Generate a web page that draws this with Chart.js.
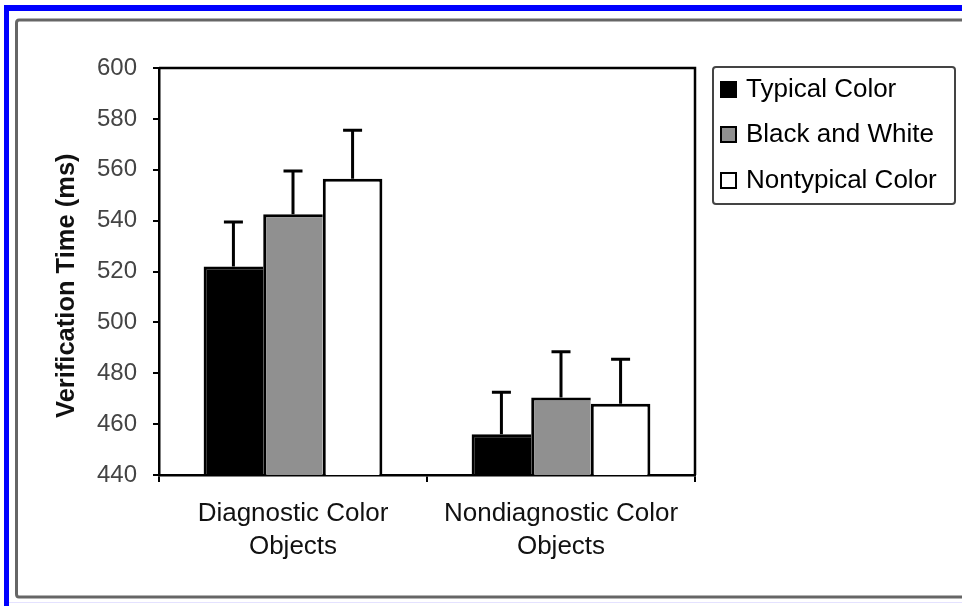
<!DOCTYPE html>
<html>
<head>
<meta charset="utf-8">
<script src="https://cdn.jsdelivr.net/npm/chart.js@4.4.1/dist/chart.umd.min.js"></script>
<style>
  html, body { margin: 0; padding: 0; background: #fff; }
  #wrap { width: 962px; height: 606px; position: relative; }
</style>
</head>
<body>
<div id="wrap"><canvas id="c" width="962" height="606"></canvas></div>
<script>
// ---- Data ----
const categories = [["Diagnostic Color", "Objects"], ["Nondiagnostic Color", "Objects"]];
const seriesNames = ["Typical Color", "Black and White", "Nontypical Color"];
const typicalColor = [522, 456];
const blackAndWhite = [542.5, 470.5];
const nontypicalColor = [556.5, 468];
const typicalErr = [17.5, 16.5];
const bwErr = [17, 18];
const nontypicalErr = [19, 17.5];
const yTicks = [440, 460, 480, 500, 520, 540, 560, 580, 600];

const seriesValues = [typicalColor, blackAndWhite, nontypicalColor];
const seriesErrors = [typicalErr, bwErr, nontypicalErr];
const fills = ["#000000", "#909090", "#ffffff"];

const FONT = "'Liberation Sans', Arial, sans-serif";

const datasets = seriesNames.map((name, i) => ({
  label: name,
  data: seriesValues[i],
  errors: seriesErrors[i],
  backgroundColor: fills[i],
  borderColor: "#000",
  borderSkipped: false,
  borderWidth: { top: 3, left: 3, right: i === 2 ? 3 : 0, bottom: 0 },
  categoryPercentage: 0.667,
  barPercentage: 1.0
}));

const framePlugin = {
  id: "frame",
  beforeDraw(chart) {
    const ctx = chart.ctx;
    ctx.save();
    ctx.fillStyle = "#fff";
    ctx.fillRect(0, 0, chart.width, chart.height);
    // blue band
    ctx.fillStyle = "#0000ff";
    ctx.fillRect(4, 5, chart.width - 4, 6);
    ctx.fillRect(4, 5, 5, chart.height - 5);
    // faint bottom line
    ctx.fillStyle = "#e4e2ff";
    ctx.fillRect(9, 602, chart.width - 9, 1);
    // gray outer frame
    ctx.strokeStyle = "#666";
    ctx.lineWidth = 3;
    ctx.beginPath();
    ctx.moveTo(chart.width + 10, 20);
    ctx.lineTo(19, 20);
    ctx.quadraticCurveTo(16.5, 20, 16.5, 23);
    ctx.lineTo(16.5, 594);
    ctx.quadraticCurveTo(16.5, 597, 19, 597);
    ctx.lineTo(chart.width + 10, 597);
    ctx.stroke();
    ctx.restore();
  },
  afterDraw(chart) {
    const ctx = chart.ctx;
    const a = chart.chartArea;
    ctx.save();
    // top & right border of plot area
    ctx.strokeStyle = "#000";
    ctx.lineWidth = 2.5;
    ctx.beginPath();
    ctx.moveTo(a.left, a.top);
    ctx.lineTo(a.right, a.top);
    ctx.lineTo(a.right, a.bottom);
    ctx.stroke();

    // legend
    const lx = 713, ly = 67, lw = 242, lh = 137;
    ctx.strokeStyle = "#444";
    ctx.lineWidth = 2;
    ctx.beginPath();
    ctx.roundRect(lx, ly, lw, lh, 3);
    ctx.stroke();
    const rows = [89, 134, 180];
    ctx.font = "26px " + FONT;
    ctx.textBaseline = "middle";
    ctx.textAlign = "left";
    chart.data.datasets.forEach((ds, i) => {
      const cy = rows[i];
      ctx.fillStyle = ds.backgroundColor;
      ctx.fillRect(721, cy - 7, 15, 15);
      ctx.strokeStyle = "#000";
      ctx.lineWidth = 2;
      ctx.strokeRect(721, cy - 7, 15, 15);
      ctx.fillStyle = "#000";
      ctx.fillText(ds.label, 746, cy + 1);
    });
    ctx.restore();
  },
  afterDatasetsDraw(chart) {
    const ctx = chart.ctx;
    const yScale = chart.scales.y;
    ctx.save();
    ctx.strokeStyle = "#000";
    ctx.lineWidth = 3;
    chart.data.datasets.forEach((ds, i) => {
      const meta = chart.getDatasetMeta(i);
      meta.data.forEach((el, j) => {
        const v = ds.data[j];
        const e = ds.errors[j];
        const yTop = yScale.getPixelForValue(v + e);
        ctx.beginPath();
        ctx.moveTo(el.x, el.y);
        ctx.lineTo(el.x, yTop);
        ctx.moveTo(el.x - 9.5, yTop);
        ctx.lineTo(el.x + 9.5, yTop);
        ctx.stroke();
      });
    });
    ctx.restore();
  }
};

new Chart(document.getElementById("c"), {
  type: "bar",
  data: { labels: categories, datasets },
  plugins: [framePlugin],
  options: {
    responsive: false,
    animation: false,
    layout: { padding: { left: 45, right: 267, top: 68, bottom: 0 } },
    plugins: { legend: { display: false }, tooltip: { enabled: false } },
    scales: {
      x: {
        offset: true,
        grid: { offset: true, drawOnChartArea: false, drawTicks: true, tickLength: 7, color: "#000", lineWidth: 2 },
        border: { display: true, color: "#000", width: 2.5 },
        ticks: {
          font: { family: FONT, size: 26, lineHeight: 1.24 },
          color: "#111",
          padding: 16,
          maxRotation: 0,
          autoSkip: false
        },
        afterFit(scale) { scale.height = 131; }
      },
      y: {
        min: 440,
        max: 600,
        afterBuildTicks(scale) { scale.ticks = yTicks.map(v => ({ value: v })); },
        grid: { drawOnChartArea: false, drawTicks: true, tickLength: 6, color: "#000", lineWidth: 2 },
        border: { display: true, color: "#000", width: 2.5 },
        ticks: {
          font: { family: FONT, size: 24 },
          color: "#444",
          padding: 16
        },
        title: {
          display: true,
          text: "Verification Time (ms)\u00A0\u00A0\u00A0\u00A0",
          font: { family: FONT, size: 25.5, weight: "bold" },
          color: "#111",
          padding: { top: 7, bottom: 0 }
        },
        afterFit(scale) { scale.width = 114; }
      }
    }
  }
});
</script>
</body>
</html>
